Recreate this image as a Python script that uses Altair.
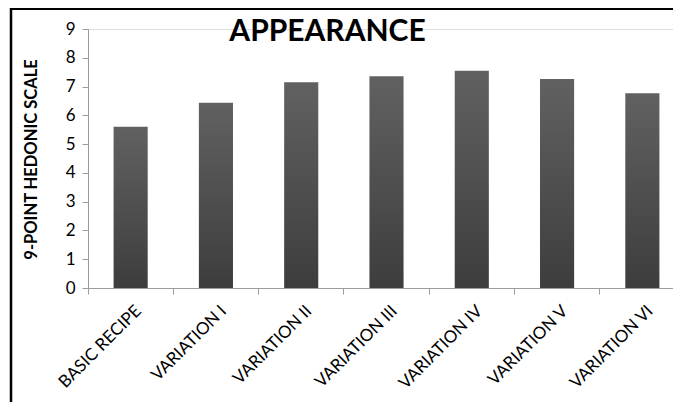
import altair as alt
import pandas as pd

# Mean appearance scores on a 9-point hedonic scale
categories = ["BASIC RECIPE", "VARIATION I", "VARIATION II", "VARIATION III",
              "VARIATION IV", "VARIATION V", "VARIATION VI"]
scores = [5.60, 6.44, 7.15, 7.36, 7.55, 7.26, 6.77]
y_ticks = list(range(10))

df = pd.DataFrame({"sample": categories, "score": scores})

FONT = "Lato"
AXIS_GREY = "#9c9c9c"

bars = alt.Chart(df).mark_bar(
    width=alt.RelativeBandSize(0.4),
    color=alt.Gradient(
        gradient="linear", x1=0, y1=0, x2=0, y2=1,
        stops=[alt.GradientStop(color="#616161", offset=0),
               alt.GradientStop(color="#3d3d3d", offset=1)],
    ),
).encode(
    x=alt.X(
        "sample:N", sort=categories,
        scale=alt.Scale(range=[0, 597], paddingInner=0, paddingOuter=0),
        axis=alt.Axis(
            title=None, bandPosition=0, labelAngle=-45,
            labelAlign="right", labelBaseline="middle",
            labelOffset=8, labelPadding=14,
            labelFont=FONT, labelFontSize=17, labelColor="black",
            domainColor=AXIS_GREY, tickColor=AXIS_GREY, tickSize=6,
            labelOverlap=False, labelBound=False,
        ),
    ),
    y=alt.Y(
        "score:Q",
        scale=alt.Scale(domain=[0, 9], nice=False),
        axis=alt.Axis(
            values=y_ticks, format="d", grid=False,
            title="9-POINT HEDONIC SCALE", titleFont=FONT, titleFontSize=16.5,
            titleFontWeight="bold", titleColor="black", titleAngle=270,
            titleAlign="center", titleBaseline="middle", titleX=-57, titleY=130,
            labelFont=FONT, labelFontSize=17, labelColor="black", labelPadding=7,
            domainColor=AXIS_GREY, tickColor=AXIS_GREY, tickSize=6,
        ),
    ),
)

# Chart-area border along the top and left edges
one = pd.DataFrame({"k": [0]})
border_top = alt.Chart(one).mark_rule(color="black", strokeWidth=2).encode(
    x=alt.value(-78), x2=alt.value(585), y=alt.value(-20)
)
border_left = alt.Chart(one).mark_rule(color="black", strokeWidth=2.5).encode(
    x=alt.value(-77), y=alt.value(-21), y2=alt.value(373)
)

chart = alt.layer(bars, border_top, border_left).properties(
    width=585,
    height=259,
    autosize=alt.AutoSizeParams(type="none"),
    padding={"left": 88, "top": 29, "right": 0, "bottom": 114},
    title=alt.TitleParams(
        "APPEARANCE", font=FONT, fontSize=30, fontWeight="bold", color="black",
        anchor="middle", frame="group", orient="top", offset=0,
        baseline="alphabetic", dx=-53, dy=64,
    ),
).configure_view(stroke=None).configure(background="white")

chart.save("out.html", embed_options={"renderer": "svg", "actions": False})
